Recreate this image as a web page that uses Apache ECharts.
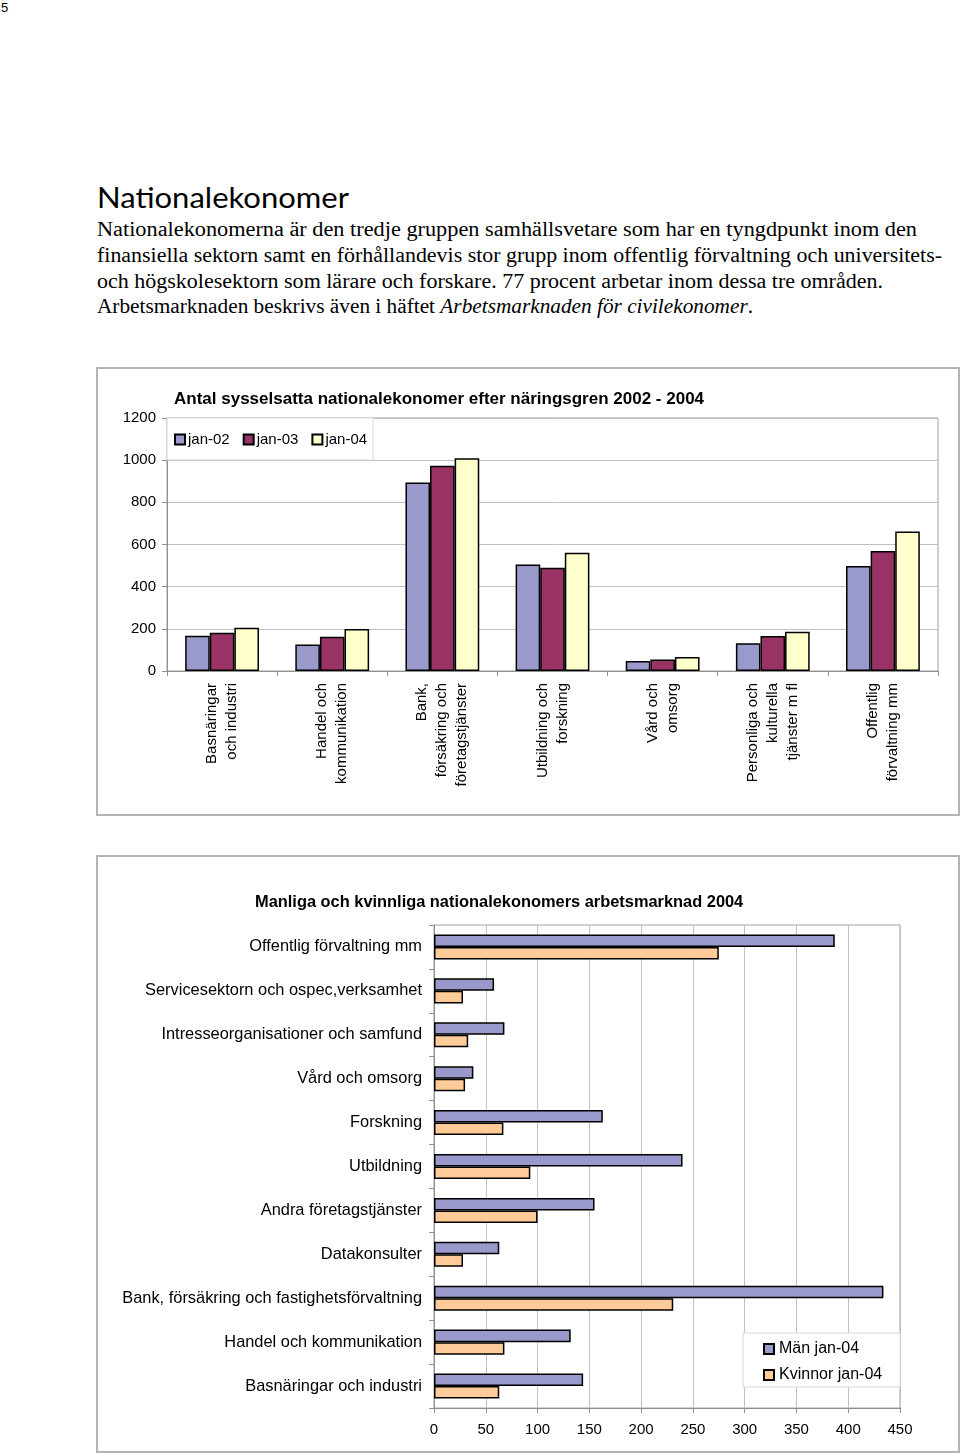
<!DOCTYPE html>
<html>
<head>
<meta charset="utf-8">
<script src="https://cdn.jsdelivr.net/npm/echarts@6/dist/echarts.min.js"></script>
<style>
  html, body { margin: 0; padding: 0; background: #fff; }
  body { width: 960px; height: 1456px; position: relative; overflow: hidden; }
  .pn { position: absolute; left: 1px; top: 0px; font: 13px "Liberation Sans", Arial, sans-serif; color: #000; }
  .h1 { position: absolute; left: 97px; top: 179px; font: 29px Lato, "Open Sans", sans-serif; color: #000; white-space: nowrap; transform-origin: 0 0; }
  .ln { position: absolute; left: 97px; font: 20px "Liberation Serif", "DejaVu Serif", serif; color: #000; white-space: nowrap; transform-origin: 0 0; }
  .box { position: absolute; box-sizing: border-box; border: 2px solid #b4b4b4; background: #fff; }
</style>
</head>
<body>
<div class="pn">5</div>
<div class="h1" id="h1" data-w="252">Nationalekonomer</div>
<div class="ln" style="top:218px" data-w="820">Nationalekonomerna är den tredje gruppen samhällsvetare som har en tyngdpunkt inom den</div>
<div class="ln" style="top:244px" data-w="845">finansiella sektorn samt en förhållandevis stor grupp inom offentlig förvaltning och universitets-</div>
<div class="ln" style="top:270px" data-w="786">och högskolesektorn som lärare och forskare. 77 procent arbetar inom dessa tre områden.</div>
<div class="ln" style="top:295px" data-w="656">Arbetsmarknaden beskrivs även i häftet <i>Arbetsmarknaden för civilekonomer</i>.</div>

<div class="box" id="c1" style="left:96px; top:367px; width:864px; height:449px;"></div>
<div class="box" id="c2" style="left:96px; top:855px; width:864px; height:598px;"></div>

<script>
// ---------- Data: chart 1 ----------
const title1 = 'Antal sysselsatta nationalekonomer efter näringsgren 2002 - 2004';
const categories1 = [
  'Basnäringar\noch industri',
  'Handel och\nkommunikation',
  'Bank,\nförsäkring och\nföretagstjänster',
  'Utbildning och\nforskning',
  'Vård och\nomsorg',
  'Personliga och\nkulturella\ntjänster m fl',
  'Offentlig\nförvaltning mm'
];
const seriesNames1 = ['jan-02', 'jan-03', 'jan-04'];
const jan02 = [167, 126, 894, 505, 47, 132, 498];
const jan03 = [181, 162, 973, 490, 54, 166, 569];
const jan04 = [205, 199, 1009, 561, 66, 186, 662];
const yMin1 = 0, yMax1 = 1200, yStep1 = 200;

// ---------- Data: chart 2 ----------
const title2 = 'Manliga och kvinnliga nationalekonomers arbetsmarknad 2004';
const categories2 = [
  'Offentlig förvaltning mm',
  'Servicesektorn och ospec,verksamhet',
  'Intresseorganisationer och samfund',
  'Vård och omsorg',
  'Forskning',
  'Utbildning',
  'Andra företagstjänster',
  'Datakonsulter',
  'Bank, försäkring och fastighetsförvaltning',
  'Handel och kommunikation',
  'Basnäringar och industri'
];
const seriesNames2 = ['Män jan-04', 'Kvinnor jan-04'];
const man04 = [387, 58, 68, 38, 163, 240, 155, 63, 434, 132, 144];
const kvinnor04 = [275, 28, 33, 30, 67, 93, 100, 28, 231, 68, 63];
const xMin2 = 0, xMax2 = 450, xStep2 = 50;

// fit page text lines to reference widths
document.querySelectorAll('[data-w]').forEach(el => {
  const w = el.getBoundingClientRect().width;
  const t = parseFloat(el.dataset.w);
  el.style.transform = 'scaleX(' + (t / w) + ')';
});

const FONT = '"Liberation Sans", Arial, sans-serif';
const colors1 = ['#9999cc', '#993366', '#ffffcc'];
const colors2 = ['#9999cc', '#ffcc99'];

const c1 = echarts.init(document.getElementById('c1'), null, { renderer: 'canvas' });
c1.setOption({
  animation: false,
  textStyle: { fontFamily: FONT },
  title: {
    text: title1, left: 71, top: 17,
    textStyle: { fontFamily: FONT, fontSize: 17, fontWeight: 'bold', color: '#000' }
  },
  legend: {
    data: seriesNames1, left: 69, top: 49, orient: 'horizontal',
    backgroundColor: '#fff', borderColor: '#d8d8d8', borderWidth: 1,
    padding: [14, 6, 13, 7], itemGap: 13, itemWidth: 10, itemHeight: 10, icon: 'rect',
    textStyle: { fontFamily: FONT, fontSize: 15, color: '#000', padding: [0, 0, 0, -2] }
  },
  grid: {
    left: 69, top: 49, right: 20, bottom: 143, show: true,
    borderColor: '#a0a0a0', borderWidth: 1, backgroundColor: '#fff', z: 0
  },
  xAxis: {
    type: 'category', data: categories1,
    axisLine: { lineStyle: { color: '#909090', width: 1 } },
    axisTick: { show: true, length: 5, lineStyle: { color: '#909090' } },
    axisLabel: { rotate: 90, margin: 12, fontSize: 15, lineHeight: 20, color: '#000', fontFamily: FONT }
  },
  yAxis: {
    type: 'value', min: yMin1, max: yMax1, interval: yStep1,
    axisLine: { show: true, lineStyle: { color: '#909090' } },
    axisTick: { show: true, length: 5, lineStyle: { color: '#909090' } },
    axisLabel: { margin: 11, fontSize: 15, color: '#000', fontFamily: FONT, formatter: v => String(v) },
    splitLine: { lineStyle: { color: '#c0c0c0', width: 1 } }
  },
  series: [jan02, jan03, jan04].map((d, i) => ({
    name: seriesNames1[i], type: 'bar', data: d,
    barGap: '0%', barCategoryGap: '33%',
    itemStyle: { color: colors1[i], borderColor: '#000', borderWidth: 1.5 }
  }))
});

const c2 = echarts.init(document.getElementById('c2'), null, { renderer: 'canvas' });
c2.setOption({
  animation: false,
  textStyle: { fontFamily: FONT },
  title: {
    text: title2, left: 152, top: 32,
    textStyle: { fontFamily: FONT, fontSize: 16.4, fontWeight: 'bold', color: '#000' }
  },
  legend: {
    data: seriesNames2, left: 645, top: 476, orient: 'vertical',
    backgroundColor: '#fff', borderColor: '#d8d8d8', borderWidth: 1,
    padding: [8, 18, 4, 20], itemGap: 10, itemWidth: 10, itemHeight: 10, icon: 'rect',
    textStyle: { fontFamily: FONT, fontSize: 16, color: '#000' }
  },
  grid: {
    left: 336, top: 68, right: 58, bottom: 43, show: true,
    borderColor: '#a0a0a0', borderWidth: 1, backgroundColor: '#fff', z: 0
  },
  yAxis: {
    type: 'category', data: categories2, inverse: true,
    axisLine: { lineStyle: { color: '#909090' } },
    axisTick: { show: true, length: 5, lineStyle: { color: '#909090' } },
    axisLabel: { margin: 12, fontSize: 16.4, color: '#000', fontFamily: FONT }
  },
  xAxis: {
    type: 'value', min: xMin2, max: xMax2, interval: xStep2,
    axisLine: { show: true, lineStyle: { color: '#909090' } },
    axisTick: { show: true, length: 5, lineStyle: { color: '#909090' } },
    axisLabel: { margin: 14, fontSize: 15, color: '#000', fontFamily: FONT },
    splitLine: { lineStyle: { color: '#c0c0c0', width: 1 } }
  },
  series: [man04, kvinnor04].map((d, i) => ({
    name: seriesNames2[i], type: 'bar', data: d,
    barGap: '0%', barCategoryGap: '43%',
    itemStyle: { color: colors2[i], borderColor: '#000', borderWidth: 1.5 }
  }))
});
</script>
</body>
</html>
